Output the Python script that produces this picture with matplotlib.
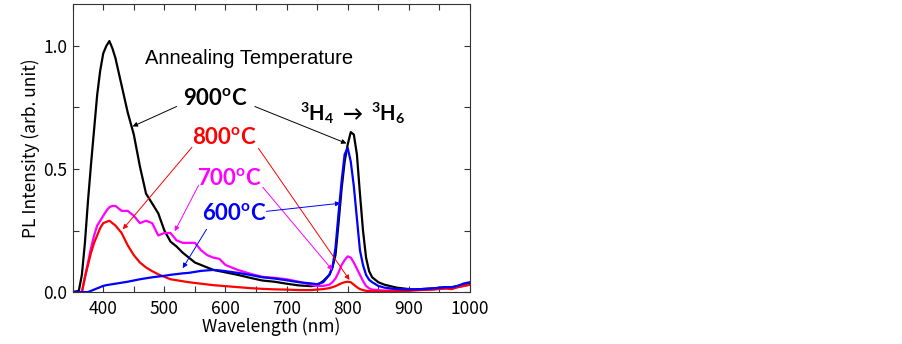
import matplotlib.pyplot as plt
from matplotlib.ticker import MultipleLocator

# wavelength grid (nm), shared by all four spectra
wavelength = [350, 360, 365, 370, 375, 380, 385, 390, 395, 400,
              405, 410, 415, 420, 430, 440, 450, 460, 470, 480,
              490, 500, 510, 520, 530, 540, 550, 560, 570, 580,
              590, 600, 620, 640, 660, 680, 700, 720, 740, 750,
              760, 770, 775, 780, 785, 790, 795, 800, 805, 810,
              815, 820, 825, 830, 835, 840, 850, 860, 880, 900,
              920, 940, 960, 970, 980, 990, 1000]

pl_900 = [0.0, 0.005, 0.07, 0.20, 0.37, 0.52, 0.66, 0.80, 0.90, 0.97,
          1.0, 1.02, 0.99, 0.95, 0.84, 0.73, 0.64, 0.51, 0.40, 0.36,
          0.32, 0.25, 0.205, 0.185, 0.16, 0.14, 0.12, 0.11, 0.10, 0.09,
          0.085, 0.08, 0.07, 0.058, 0.047, 0.042, 0.034, 0.027, 0.024, 0.028,
          0.045, 0.07, 0.10, 0.15, 0.28, 0.42, 0.53, 0.60, 0.65, 0.64,
          0.56, 0.40, 0.25, 0.14, 0.085, 0.06, 0.04, 0.03, 0.018, 0.012,
          0.012, 0.015, 0.02, 0.018, 0.025, 0.03, 0.035]

pl_800 = [0.0, 0.0, 0.0, 0.06, 0.11, 0.16, 0.20, 0.23, 0.26, 0.28,
          0.285, 0.29, 0.28, 0.27, 0.24, 0.19, 0.15, 0.12, 0.10, 0.085,
          0.072, 0.062, 0.052, 0.048, 0.044, 0.04, 0.037, 0.034, 0.031, 0.028,
          0.026, 0.024, 0.02, 0.016, 0.013, 0.011, 0.01, 0.008, 0.008, 0.01,
          0.012, 0.016, 0.02, 0.024, 0.03, 0.036, 0.04, 0.042, 0.04, 0.03,
          0.02, 0.012, 0.008, 0.005, 0.004, 0.003, 0.002, 0.002, 0.003, 0.005,
          0.008, 0.01, 0.015, 0.012, 0.02, 0.025, 0.03]

pl_700 = [0.0, 0.0, 0.0, 0.06, 0.12, 0.18, 0.23, 0.27, 0.29, 0.31,
          0.33, 0.345, 0.35, 0.35, 0.33, 0.33, 0.31, 0.28, 0.29, 0.28,
          0.23, 0.24, 0.24, 0.21, 0.20, 0.20, 0.20, 0.17, 0.15, 0.14,
          0.135, 0.11, 0.09, 0.075, 0.062, 0.058, 0.052, 0.042, 0.03, 0.025,
          0.025, 0.03, 0.04, 0.055, 0.08, 0.11, 0.13, 0.145, 0.14, 0.12,
          0.095, 0.07, 0.045, 0.025, 0.015, 0.01, 0.008, 0.006, 0.008, 0.01,
          0.01, 0.012, 0.015, 0.015, 0.02, 0.025, 0.03]

pl_600 = [0.0, 0.0, 0.0, 0.0, 0.0, 0.005, 0.01, 0.015, 0.02, 0.025,
          0.028, 0.03, 0.032, 0.034, 0.038, 0.042, 0.047, 0.052, 0.056, 0.06,
          0.063, 0.066, 0.07, 0.073, 0.076, 0.078, 0.082, 0.086, 0.088, 0.09,
          0.088, 0.085, 0.078, 0.07, 0.06, 0.055, 0.048, 0.04, 0.035, 0.032,
          0.04, 0.07, 0.10, 0.18, 0.32, 0.45, 0.56, 0.585, 0.53, 0.43,
          0.30, 0.17, 0.11, 0.07, 0.05, 0.04, 0.025, 0.018, 0.012, 0.01,
          0.012, 0.015, 0.02, 0.02, 0.025, 0.035, 0.04]

labels = ['900', '800', '700', '600']
colors = ['#000000', '#ff0000', '#ff00ff', '#0000ff']

plt.rcParams['mathtext.fontset'] = 'custom'
plt.rcParams['mathtext.bf'] = 'Lato:bold'
plt.rcParams['mathtext.rm'] = 'Lato'

fig = plt.figure(figsize=(9.02, 3.44), dpi=100)
ax = fig.add_axes([0.0806, 0.151, 0.4404, 0.837])

for ys, c in zip([pl_900, pl_700, pl_800, pl_600], [colors[0], colors[2], colors[1], colors[3]]):
    ax.plot(wavelength, ys, color=c, lw=1.6)

ax.set_xlim(350, 1000)
ax.set_ylim(0, 1.17)
ax.xaxis.set_major_locator(MultipleLocator(100))
ax.xaxis.set_minor_locator(MultipleLocator(50))
ax.yaxis.set_major_locator(MultipleLocator(0.5))
ax.yaxis.set_minor_locator(MultipleLocator(0.25))
ax.yaxis.set_major_formatter(plt.FuncFormatter(lambda v, p: f'{v:.1f}'))
ax.tick_params(which='both', direction='in', top=True, right=True,
               length=4, width=0.8, color='#333333')
ax.tick_params(axis='x', pad=6)
ax.tick_params(axis='y', pad=4)
for label in (ax.get_xticklabels() + ax.get_yticklabels()):
    label.set_fontfamily('Noto Sans CJK JP')
    label.set_fontsize(12.5)
for s in ax.spines.values():
    s.set_linewidth(0.8)
    s.set_color('#333333')

ax.set_xlabel('Wavelength (nm)', fontsize=12.5, family='Noto Sans CJK JP', labelpad=-1)
ax.set_ylabel('PL Intensity (arb. unit)', fontsize=12.5, family='Noto Sans CJK JP', labelpad=2)

ax.text(639, 0.95, 'Annealing Temperature', fontsize=14.5, family='Liberation Sans',
        ha='center', va='center')

# temperature labels with arrows to both bands
label_pos = [(584, 0.786), (599, 0.628), (607, 0.462), (614, 0.32)]
arrow_tips = [((448, 0.673), (798, 0.604)),
              ((432, 0.255), (803, 0.049)),
              ((517, 0.247), (775, 0.089)),
              ((530, 0.097), (788, 0.361))]
arrow_tails = [((520, 0.754), (648, 0.754)),
               ((545, 0.588), (654, 0.584)),
               ((556, 0.434), (661, 0.426)),
               ((569, 0.255), (667, 0.328))]
for t, c, pos, tips, tails in zip(labels, colors, label_pos, arrow_tips, arrow_tails):
    ax.text(pos[0], pos[1], t + r'$^{\mathbf{o}}$C', color=c, fontsize=16,
            family='Lato', fontweight='bold', ha='center', va='center')
    for tip, tail in zip(tips, tails):
        ax.annotate('', xy=tip, xytext=tail,
                    arrowprops=dict(arrowstyle='-|>', color=c, lw=0.7,
                                    mutation_scale=7, shrinkA=0, shrinkB=0))

ax.text(808, 0.725, r'$^{\mathbf{3}}$H$_{\mathbf{4}}$ $\mathbf{\rightarrow}$ $^{\mathbf{3}}$H$_{\mathbf{6}}$',
        fontsize=14.5, family='Lato', fontweight='bold', ha='center', va='center')

plt.savefig('out.png', dpi=100)
